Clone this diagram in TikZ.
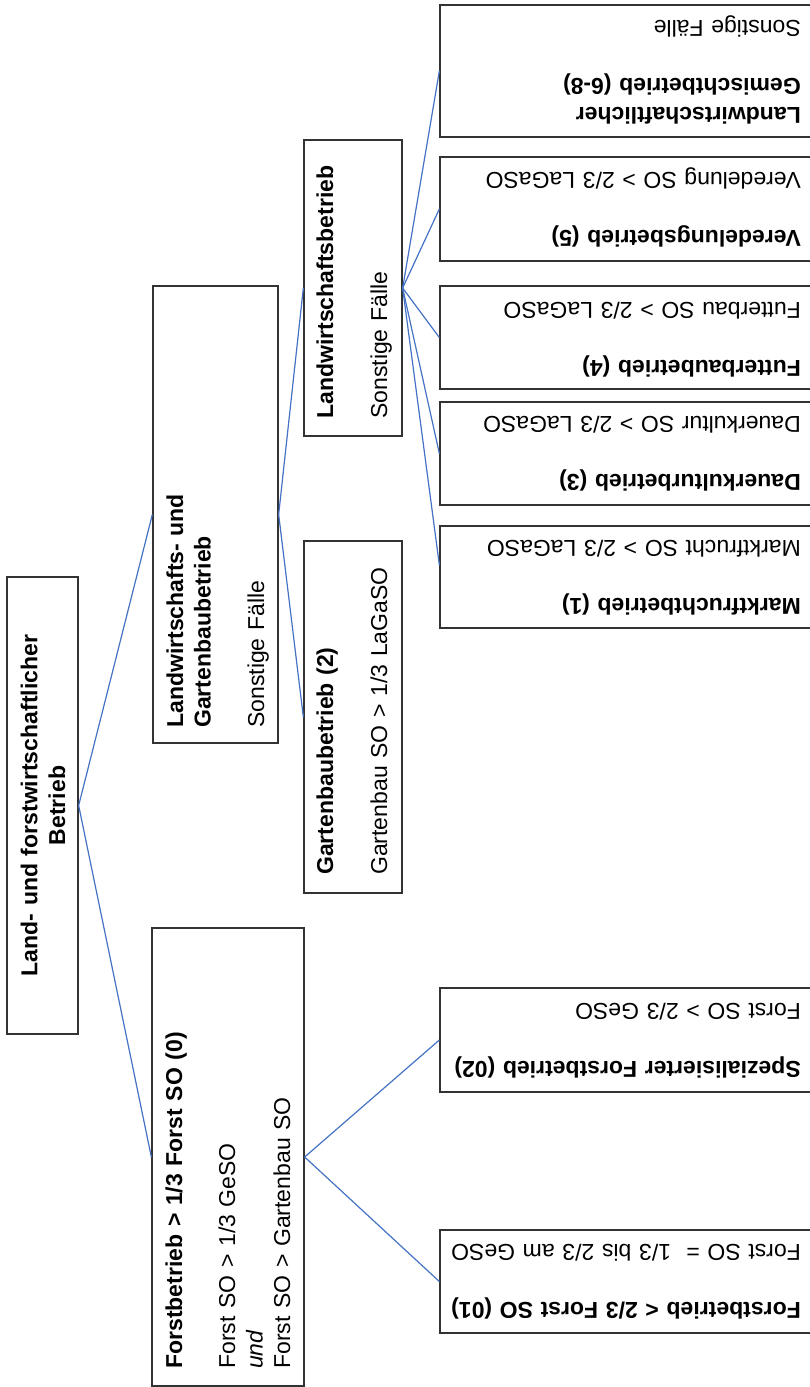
\documentclass[tikz,border=0pt]{standalone}
\usepackage{fontspec}
\setmainfont{Liberation Sans}
\begin{document}
\begin{tikzpicture}[x=1pt,y=-1pt,
  box/.style={draw=black!80,line width=1.3pt,rectangle,inner sep=0pt,fill=none},
  link/.style={draw={rgb,255:red,68;green,114;blue,196},line width=1.2pt},
  txt/.style={inner sep=0pt,text width=#1,align=left,anchor=base west,
    font=\fontsize{23}{27.5}\selectfont},
  txt/.default=360pt,
  up/.style={txt=400pt,rotate=90},
  flip/.style={txt=355pt,rotate=180}]
\useasboundingbox (0,0) rectangle (809,1387);

% boxes
\node[box,minimum width=71pt,minimum height=457pt] (root) at (42.5,805.5) {};
\node[box,minimum width=125pt,minimum height=457pt] (lg) at (215.5,514.5) {};
\node[box,minimum width=152pt,minimum height=458pt] (forst) at (228,1157) {};
\node[box,minimum width=98pt,minimum height=296pt] (lw) at (353,288) {};
\node[box,minimum width=98pt,minimum height=352pt] (gb) at (353,717) {};
\node[box,minimum width=375pt,minimum height=132pt] (misch) at (627.5,71) {};
\node[box,minimum width=375pt,minimum height=104pt] (vered) at (627.5,209) {};
\node[box,minimum width=375pt,minimum height=103pt] (futter) at (627.5,337.5) {};
\node[box,minimum width=375pt,minimum height=103pt] (dauer) at (627.5,453.5) {};
\node[box,minimum width=375pt,minimum height=102pt] (markt) at (627.5,577) {};
\node[box,minimum width=375pt,minimum height=104pt] (spez) at (627.5,1040) {};
\node[box,minimum width=375pt,minimum height=103pt] (forstz) at (627.5,1281.5) {};

% texts
\node[inner sep=0pt,text width=440pt,align=center,anchor=base,rotate=90,
  font=\fontsize{23}{27.7}\selectfont\bfseries] (troot) at (37.3,805.5)
  {Land- und forstwirtschaftlicher\\Betrieb};
\node[up] (tlg) at (183,728)
  {\textbf{Landwirtschafts- und}\\\textbf{Gartenbaubetrieb}\\[26pt]Sonstige Fälle};
\node[up] (tforst) at (182,1369)
  {\textbf{Forstbetrieb > 1/3 Forst SO (0)}\\[25.5pt]Forst SO > 1/3 GeSO\\\textit{und}\\Forst SO > Gartenbau SO};
\node[up] (tlw) at (333,419)
  {\textbf{Landwirtschaftsbetrieb}\\[26.5pt]Sonstige Fälle};
\node[up] (tgb) at (333,875)
  {\textbf{Gartenbaubetrieb (2)}\\[26.5pt]Gartenbau SO > 1/3 LaGaSO};
\node[flip] (tmisch) at (801,107)
  {\textbf{Landwirtschaftlicher}\\[1pt]\textbf{Gemischtbetrieb (6-8)}\\[31pt]Sonstige Fälle};
\node[flip] (tvered) at (801,230)
  {\textbf{Veredelungsbetrieb (5)}\\[30pt]Veredelung SO > 2/3 LaGaSO};
\node[flip] (tfutter) at (801,360)
  {\textbf{Futterbaubetrieb (4)}\\[30pt]Futterbau SO > 2/3 LaGaSO};
\node[flip] (tdauer) at (801,474)
  {\textbf{Dauerkulturbetrieb (3)}\\[30pt]Dauerkultur SO > 2/3 LaGaSO};
\node[flip] (tmarkt) at (801,598)
  {\textbf{Marktfruchtbetrieb (1)}\\[30pt]Marktfrucht SO > 2/3 LaGaSO};
\node[flip] (tspez) at (801,1061)
  {\textbf{Spezialisierter Forstbetrieb (02)}\\[30pt]Forst SO > 2/3 GeSO};
\node[flip] (tforstz) at (801,1302)
  {\textbf{Forstbetrieb < 2/3 Forst SO (01)}\\[30pt]Forst SO =\ \ 1/3 bis 2/3 am GeSO};

% connectors
\draw[link] (root.east) -- (lg.west);
\draw[link] (root.east) -- (forst.west);
\draw[link] (lg.east) -- (lw.west);
\draw[link] (lg.east) -- (gb.west);
\draw[link] (lw.east) -- (misch.west);
\draw[link] (lw.east) -- (vered.west);
\draw[link] (lw.east) -- (futter.west);
\draw[link] (lw.east) -- (dauer.west);
\draw[link] (lw.east) -- ([yshift=12pt]markt.west);
\draw[link] (forst.east) -- (spez.west);
\draw[link] (forst.east) -- (forstz.west);
\end{tikzpicture}
\end{document}
